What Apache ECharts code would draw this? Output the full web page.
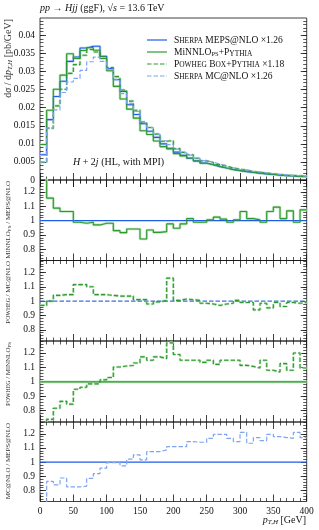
<!DOCTYPE html>
<html><head><meta charset="utf-8">
<script src="https://cdn.jsdelivr.net/npm/echarts@6/dist/echarts.min.js"></script>
<style>html,body{margin:0;padding:0;background:#fff}#c{width:319px;height:530px}</style>
</head><body><div id="c"></div>
<script>
// ---- data (bins of 10 GeV in p_T,H) ----
const binEdges = [0,10,20,30,40,50,60,70,80,90,100,110,120,130,140,150,160,170,180,190,200,210,220,230,240,250,260,270,280,290,300,310,320,330,340,350,360,370,380,390,400];
const seriesNames = ['Sherpa MEPS@NLO ×1.26','MiNNLO_PS+Pythia','Powheg Box+Pythia ×1.18','Sherpa MC@NLO ×1.26'];
const mepsNLO = [0.0070,0.0167,0.0231,0.0273,0.0328,0.0340,0.0365,0.0370,0.0370,0.0342,0.0308,0.0278,0.0245,0.0208,0.0181,0.0156,0.0135,0.0118,0.0100,0.0088,0.0077,0.0068,0.0060,0.0053,0.0047,0.0042,0.0037,0.0033,0.0029,0.0026,0.0023,0.0021,0.0019,0.0017,0.0015,0.0013,0.0012,0.0011,0.0010,0.0009];
const minnloPS = [0.0098,0.0193,0.0251,0.0290,0.0349,0.0336,0.0358,0.0366,0.0359,0.0336,0.0302,0.0259,0.0224,0.0196,0.0171,0.0136,0.0126,0.0108,0.00923,0.0086,0.0073,0.00664,0.00608,0.00524,0.00465,0.00422,0.00379,0.00333,0.00287,0.00261,0.00245,0.00213,0.00191,0.00168,0.00159,0.00142,0.00122,0.00117,0.00099,0.00097];
const powhegBox = [0.0049,0.0143,0.0205,0.0251,0.0295,0.0319,0.0345,0.0361,0.0354,0.0341,0.0311,0.0286,0.0249,0.0218,0.0193,0.0160,0.0145,0.0127,0.01072,0.01092,0.00869,0.00764,0.00699,0.00603,0.00528,0.00485,0.00425,0.00383,0.0033,0.0030,0.00273,0.00236,0.00209,0.00193,0.00172,0.00152,0.00137,0.00126,0.00119,0.00106];
const mcatNLO = [0.0050,0.0144,0.0194,0.0242,0.0271,0.0281,0.0303,0.0327,0.0340,0.0328,0.0307,0.0277,0.0239,0.0212,0.0190,0.0158,0.0145,0.0127,0.01086,0.00976,0.00855,0.00754,0.00687,0.00604,0.00536,0.00491,0.00443,0.00395,0.00339,0.00298,0.00278,0.00238,0.00223,0.00196,0.00179,0.00153,0.00141,0.00128,0.00121,0.00106];
const ratioMinnloMeps = [1.40,1.157,1.087,1.063,1.063,0.989,0.982,0.989,0.970,0.982,0.982,0.930,0.916,0.942,0.942,0.872,0.935,0.918,0.923,0.977,0.947,0.977,1.014,0.989,0.989,1.005,1.024,1.010,0.989,1.005,1.063,1.014,1.005,0.989,1.063,1.094,1.014,1.068,0.989,1.075];
const ratioPowhegMcatnlo = [0.970,1.000,1.040,1.045,1.045,1.115,1.115,1.100,1.045,1.045,1.040,1.035,1.035,1.035,1.010,1.010,0.980,0.995,1.005,1.160,1.005,1.015,1.010,1.005,0.985,0.980,0.970,0.980,0.985,1.005,0.990,0.990,0.939,0.985,0.953,0.990,0.962,0.990,0.985,0.990];
const ratioPowhegMinnlo = [0.50,0.740,0.817,0.865,0.846,0.949,0.963,0.986,0.986,1.014,1.030,1.103,1.110,1.113,1.131,1.173,1.150,1.173,1.161,1.270,1.190,1.150,1.150,1.150,1.135,1.150,1.121,1.150,1.150,1.150,1.114,1.107,1.096,1.150,1.080,1.068,1.126,1.080,1.200,1.096];
const ratioMcatnloMeps = [0.71,0.864,0.840,0.888,0.825,0.825,0.830,0.885,0.918,0.958,0.997,0.997,0.974,1.021,1.051,1.016,1.074,1.074,1.086,1.109,1.110,1.109,1.145,1.140,1.140,1.168,1.196,1.196,1.168,1.145,1.210,1.133,1.173,1.152,1.196,1.180,1.173,1.168,1.210,1.173];
const ratioRef = 1;
const mainTickValues = [0,0.005,0.01,0.015,0.02,0.025,0.03,0.035,0.04];
const ratioTickValues = [0.8,0.9,1,1.1,1.2];
const xTickValues = [0,50,100,150,200,250,300,350,400];

// ---- styling ----
const FONT = '"Liberation Serif","DejaVu Serif",serif';
const BLUE = '#1f5ce8', GREEN = '#2e9a2e', LBLUE = '#7ea4f2';
const HBLUE = '#c4d6f8', HGREEN = '#bfe3bf';
const DASH = [4.5, 2];

function hist(values){
  const pts = [];
  for (let i = 0; i < values.length; i++) pts.push([binEdges[i], values[i]]);
  pts.push([binEdges[values.length], values[values.length-1]]);
  return pts;
}
function range(a, b, s){ const r=[]; for(let v=a; v<=b+1e-9; v+=s) r.push(+v.toFixed(4)); return r; }

const boxes = [
  {top:18, height:162},
  {top:180, height:80.5},
  {top:260.5, height:80.5},
  {top:341, height:81},
  {top:422, height:79.5}
];
const RMIN = 0.722, RMAX = 1.283;
const mainMinor = range(0, 0.044, 0.001);
const ratioMinor = range(0.74, 1.28, 0.02);

const grids = boxes.map(b => ({left:40, width:266.7, top:b.top, height:b.height, show:true,
  borderColor:'#111', borderWidth:0.8, backgroundColor:'rgba(0,0,0,0)'}));

const xAxes = [];
boxes.forEach((b, g) => {
  ['bottom','top'].forEach(pos => {
    xAxes.push({type:'value', gridIndex:g, position:pos, min:0, max:400, interval:50,
      axisLine:{show:false}, splitLine:{show:false},
      axisTick:{show:true, inside:true, length:7, lineStyle:{color:'#111', width:0.8}},
      minorTick:{show:true, splitNumber:5, length:3.5, lineStyle:{color:'#111', width:0.7}},
      axisLabel:{show: (g === 4 && pos === 'bottom'), margin:5, fontFamily:FONT, fontSize:9.5, color:'#111',
        customValues: xTickValues}
    });
  });
});

const yAxes = [];
boxes.forEach((b, g) => {
  const isMain = g === 0;
  const min = isMain ? 0 : RMIN, max = isMain ? 0.0448 : RMAX;
  const majors = isMain ? mainTickValues : ratioTickValues;
  const minors = isMain ? mainMinor : ratioMinor;
  ['left','right'].forEach(pos => {
    yAxes.push({type:'value', gridIndex:g, position:pos, min:min, max:max,
      axisLine:{show:false}, splitLine:{show:false},
      axisTick:{show:true, inside:true, length:6, customValues:majors, lineStyle:{color:'#111', width:0.8}},
      axisLabel:{show: pos === 'left', customValues:majors, margin:5, fontFamily:FONT, fontSize:9.5, color:'#111'}
    });
    yAxes.push({type:'value', gridIndex:g, position:pos, min:min, max:max,
      axisLine:{show:false}, splitLine:{show:false},
      axisTick:{show:true, inside:true, length:3.5, customValues:minors, lineStyle:{color:'#111', width:0.7}},
      axisLabel:{show:false}
    });
  });
});

function line(g, data, color, width, dashed, name, z){
  return {type:'line', name:name, xAxisIndex:2*g, yAxisIndex:4*g, data:data, step:'end',
    symbol:'none', clip:true, silent:true, z:z||3, animation:false,
    lineStyle:{color:color, width:width, type: dashed ? DASH : 'solid'},
    itemStyle:{color:color}};
}
const refData = [[binEdges[0], ratioRef],[binEdges[binEdges.length-1], ratioRef]];

const series = [
  // main panel
  line(0, hist(mepsNLO), HBLUE, 2.6, false, 'h1', 1),
  line(0, hist(minnloPS), HGREEN, 2.6, false, 'h2', 1),
  line(0, hist(powhegBox), HGREEN, 2.6, true, 'h3', 1),
  line(0, hist(mepsNLO), BLUE, 1.1, false, seriesNames[0]),
  line(0, hist(minnloPS), GREEN, 1.1, false, seriesNames[1]),
  line(0, hist(powhegBox), GREEN, 1.1, true, seriesNames[2]),
  line(0, hist(mcatNLO), LBLUE, 1.2, true, seriesNames[3]),
  // ratio 1: MiNNLO / MEPS
  line(1, hist(ratioMinnloMeps), HGREEN, 2.6, false, 'h4', 1),
  line(1, refData, BLUE, 1.1, false, 'r1ref'),
  line(1, hist(ratioMinnloMeps), GREEN, 1.1, false, 'r1'),
  // ratio 2: Powheg / MC@NLO
  line(2, refData, '#3f6fe0', 1.1, true, 'r2ref'),
  line(2, hist(ratioPowhegMcatnlo), HGREEN, 2.6, true, 'h5', 1),
  line(2, hist(ratioPowhegMcatnlo), GREEN, 1.1, true, 'r2'),
  // ratio 3: Powheg / MiNNLO
  line(3, refData, HGREEN, 2.6, false, 'h6', 1),
  line(3, refData, GREEN, 1.1, false, 'r3ref'),
  line(3, hist(ratioPowhegMinnlo), HGREEN, 2.6, true, 'h7', 1),
  line(3, hist(ratioPowhegMinnlo), GREEN, 1.1, true, 'r3'),
  // ratio 4: MC@NLO / MEPS
  line(4, refData, BLUE, 1.1, false, 'r4ref'),
  line(4, hist(ratioMcatnloMeps), LBLUE, 1.2, true, 'r4')
];

const legendLabels = [
  'S{sc|HERPA} MEPS@NLO ×1.26',
  'MiNNLO{sub|PS}+P{sc|YTHIA}',
  'P{sc|OWHEG} B{sc|OX}+P{sc|YTHIA} ×1.18',
  'S{sc|HERPA} MC@NLO ×1.26'
];
const legendStyle = [
  {stroke:BLUE, dash:null}, {stroke:GREEN, dash:null}, {stroke:GREEN, dash:DASH}, {stroke:LBLUE, dash:DASH}
];
const legendRich = {
  sc:{fontFamily:FONT, fontSize:7.4, fill:'#111', verticalAlign:'bottom'},
  sub:{fontFamily:FONT, fontSize:6.5, fill:'#111', padding:[4,0,0,0]}
};
const legendGraphics = [];
legendLabels.forEach((t, i) => {
  const y = 40 + i * 12;
  legendGraphics.push({type:'line', silent:true, shape:{x1:147, y1:y, x2:167, y2:y},
    style:{stroke:legendStyle[i].stroke, lineWidth:1.2, lineDash:legendStyle[i].dash}});
  legendGraphics.push({type:'text', x:174, y:y, silent:true,
    style:{text:t, fontFamily:FONT, fontSize:9.5, fill:'#111', verticalAlign:'middle', rich:legendRich}});
});

const rot = (text, x, y, size, rich) => ({type:'text', x:x, y:y, rotation:Math.PI/2, silent:true,
  style:{text:text, fontFamily:FONT, fontSize:size, fill:'#333', align:'right', verticalAlign:'middle', rich:rich}});
const smallRich = {
  s:{fontFamily:FONT, fontSize:5.8, fill:'#333'},
  sub:{fontFamily:FONT, fontSize:5, fill:'#333', padding:[3,0,0,0]}
};

const option = {
  animation:false,
  backgroundColor:'#fff',
  grid: grids,
  xAxis: xAxes,
  yAxis: yAxes,
  series: series,
  graphic: legendGraphics.concat([
    {type:'text', left:40, top:3, silent:true, style:{
      text:'{i|pp} → {i|Hjj} (ggF), √{i|s} = 13.6 TeV', fontFamily:FONT, fontSize:10, fill:'#111',
      rich:{i:{fontFamily:FONT, fontStyle:'italic', fontSize:10, fill:'#111'}}}},
    {type:'text', left:73, top:157, silent:true, style:{
      text:'{i|H} + 2{i|j} (HL, with MPI)', fontFamily:FONT, fontSize:10, fill:'#111',
      rich:{i:{fontFamily:FONT, fontStyle:'italic', fontSize:10, fill:'#111'}}}},
    {type:'text', right:13, top:515, silent:true, style:{
      text:'{i|p}{sub|T,H} [GeV]', fontFamily:FONT, fontSize:10, fill:'#111',
      rich:{i:{fontFamily:FONT, fontStyle:'italic', fontSize:10, fill:'#111'},
            sub:{fontFamily:FONT, fontStyle:'italic', fontSize:7, fill:'#111', padding:[4,0,0,0]}}}},
    rot('d{i|σ} / d{i|p}{sub|T,H} [pb/GeV]', 8, 19, 10, {
      i:{fontFamily:FONT, fontStyle:'italic', fontSize:10, fill:'#333'},
      sub:{fontFamily:FONT, fontStyle:'italic', fontSize:7, fill:'#333', padding:[4,0,0,0]}}),
    rot('M{s|I}NNLO{sub|PS} / MEPS@NLO', 8, 181, 7, smallRich),
    rot('P{s|OWHEG} / MC@NLO', 8, 261, 7, smallRich),
    rot('P{s|OWHEG} / M{s|I}NNLO{sub|PS}', 8, 342, 7, smallRich),
    rot('MC@NLO / MEPS@NLO', 8, 423, 7, smallRich)
  ])
};

const chart = echarts.init(document.getElementById('c'), null, {renderer:'canvas', width:319, height:530});
chart.setOption(option);
</script>
</body></html>
